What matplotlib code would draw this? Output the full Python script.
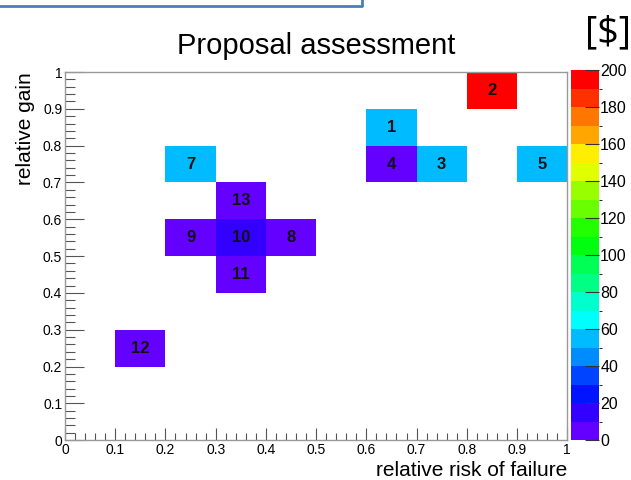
import colorsys
import numpy as np
import matplotlib
matplotlib.use("Agg")
import matplotlib.pyplot as plt
from matplotlib.colors import ListedColormap, BoundaryNorm
from matplotlib.lines import Line2D
from matplotlib.ticker import MultipleLocator

plt.rcParams['font.family'] = ['Liberation Sans', 'DejaVu Sans']

# proposal id, risk bin (lower edge), gain bin (lower edge), cost [$]
ids = ["1", "2", "3", "4", "5", "7", "8", "9", "10", "11", "12", "13"]
risk = [0.6, 0.8, 0.7, 0.6, 0.9, 0.2, 0.4, 0.2, 0.3, 0.3, 0.1, 0.3]
gain = [0.8, 0.9, 0.7, 0.7, 0.7, 0.7, 0.5, 0.5, 0.5, 0.4, 0.2, 0.6]
cost = [55, 195, 55, 5, 55, 55, 5, 5, 15, 5, 5, 5]

bin_w = 0.1
levels = np.arange(0, 201, 10)
cbar_ticks = np.arange(0, 201, 20)

# ROOT "pretty" palette: hue 280 -> 0, 50 colours, picked for 20 contours
pretty = [colorsys.hls_to_rgb((280 - (i + 1) * 280 / 50) / 360, 0.5, 1.0) for i in range(50)]
ncont = len(levels) - 1
cols = [pretty[int((j + 0.99) * 50 / ncont)] for j in range(ncont)]
cmap = ListedColormap(cols)
norm = BoundaryNorm(levels, cmap.N)

edges = np.arange(0, 1.0001, bin_w)
grid = np.full((10, 10), np.nan)
for r, g, c in zip(risk, gain, cost):
    grid[int(round(g / bin_w)), int(round(r / bin_w))] = c

fig = plt.figure(figsize=(6.31, 4.8), dpi=100)
ax = fig.add_axes([0.103, 0.083, 0.796, 0.767])
cax = fig.add_axes([0.905, 0.083, 0.044, 0.771])

mesh = ax.pcolormesh(edges, edges, np.ma.masked_invalid(grid), cmap=cmap, norm=norm)
for t, r, g in zip(ids, risk, gain):
    ax.text(r + bin_w / 2, g + bin_w / 2, t, ha="center", va="center",
            fontsize=12, fontweight="bold", color="#111111")

ax.set_xlim(0, 1)
ax.set_ylim(0, 1)
ax.xaxis.set_major_locator(MultipleLocator(0.1))
ax.yaxis.set_major_locator(MultipleLocator(0.1))
ax.xaxis.set_minor_locator(MultipleLocator(0.02))
ax.yaxis.set_minor_locator(MultipleLocator(0.02))
ax.xaxis.set_major_formatter(plt.FuncFormatter(lambda v, p: "%g" % round(v, 2)))
ax.yaxis.set_major_formatter(plt.FuncFormatter(lambda v, p: "%g" % round(v, 2)))
ax.tick_params(axis="x", which="major", direction="in", length=9, width=0.8,
               color="#555555", labelsize=10, pad=2)
ax.tick_params(axis="x", which="minor", direction="in", length=5, width=0.8, color="#555555")
ax.tick_params(axis="y", which="major", direction="in", length=14, width=0.8,
               color="#555555", labelsize=10, pad=2)
ax.tick_params(axis="y", which="minor", direction="in", length=7, width=0.8, color="#555555")
for s in ax.spines.values():
    s.set_color("#999999")
    s.set_linewidth(1.0)

ax.set_xlabel("relative risk of failure", fontsize=15, loc="right", labelpad=3)
ax.set_ylabel("relative gain", fontsize=15, loc="top", labelpad=6)
ax.set_title("Proposal assessment", fontsize=21, pad=13)

cb = fig.colorbar(mesh, cax=cax, ticks=cbar_ticks)
cb.outline.set_visible(False)
cax.tick_params(direction="in", length=10, width=0.8, color="#333333",
                labelsize=11.5, pad=1)

fig.text(0.963, 0.93, "[$]", fontsize=27, family="Open Sans", ha="center", va="center")

# corner of the box above the figure
fig.add_artist(Line2D([0, 362 / 631, 362 / 631], [1 - 6 / 480, 1 - 6 / 480, 1.0],
                      transform=fig.transFigure, color="#4a7ebb", lw=2))

fig.savefig("out.png", dpi=100)
